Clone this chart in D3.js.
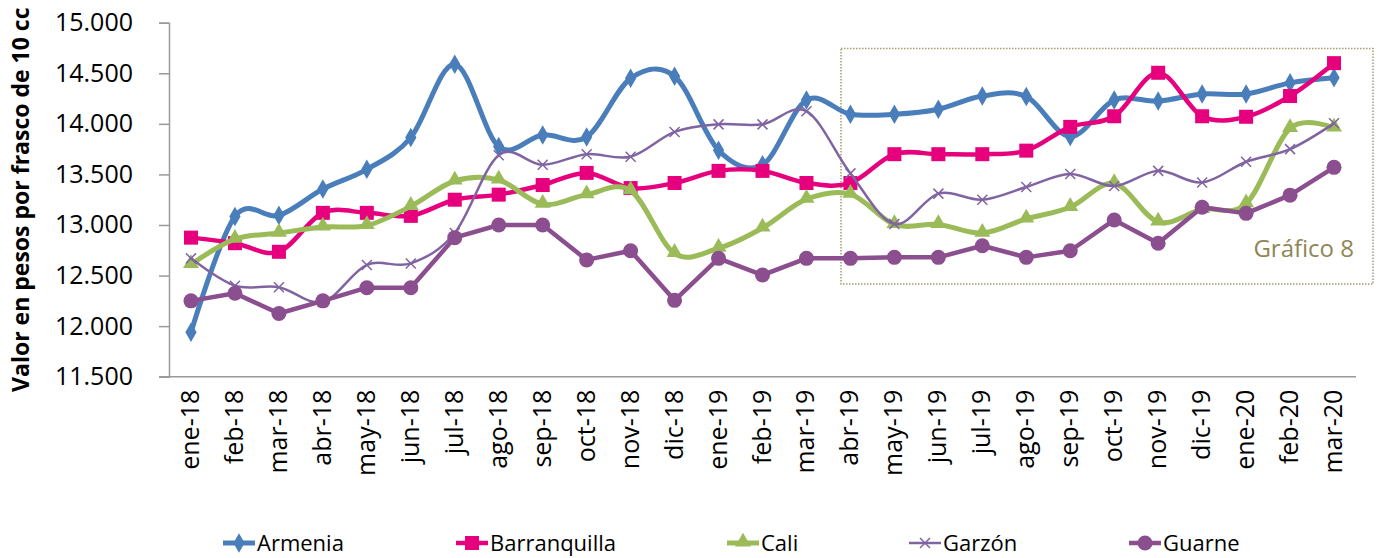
<!DOCTYPE html>
<html>
<head>
<meta charset="utf-8">
<script src="https://cdn.jsdelivr.net/npm/d3@7"></script>
<style>
  html, body { margin: 0; padding: 0; background: #fff; }
  svg { display: block; font-family: "Open Sans", "Noto Sans", sans-serif; }
</style>
</head>
<body>
<svg id="chart" width="1381" height="558"></svg>
<script>
// ---------------------------------------------
// Data
// ---------------------------------------------

let months = ['ene-18', 'feb-18', 'mar-18', 'abr-18', 'may-18', 'jun-18', 'jul-18',
  'ago-18', 'sep-18', 'oct-18', 'nov-18', 'dic-18', 'ene-19', 'feb-19', 'mar-19',
  'abr-19', 'may-19', 'jun-19', 'jul-19', 'ago-19', 'sep-19', 'oct-19', 'nov-19',
  'dic-19', 'ene-20', 'feb-20', 'mar-20'];

let armenia = [11940, 13085, 13095, 13355, 13550, 13865, 14590, 13775, 13890, 13870,
  14450, 14470, 13740, 13595, 14235, 14095, 14095, 14145, 14275, 14270, 13875, 14235,
  14225, 14295, 14295, 14405, 14455];

let barranquilla = [12875, 12820, 12735, 13120, 13120, 13090, 13250, 13300, 13395, 13515,
  13365, 13415, 13535, 13535, 13415, 13415, 13700, 13700, 13700, 13735, 13970, 14075,
  14505, 14075, 14070, 14275, 14600];

let cali = [12610, 12860, 12920, 12980, 12995, 13185, 13435, 13445, 13205, 13300,
  13340, 12720, 12770, 12970, 13255, 13305, 13005, 13005, 12920, 13060, 13175, 13410,
  13030, 13155, 13210, 13955, 13960];

let garzon = [12670, 12400, 12385, 12240, 12605, 12620, 12920, 13690, 13595, 13700,
  13675, 13920, 13995, 13995, 14125, 13510, 13010, 13310, 13250, 13375, 13505, 13385,
  13535, 13420, 13625, 13750, 14005];

let guarne = [12250, 12325, 12125, 12250, 12380, 12380, 12875, 13000, 13000, 12655,
  12745, 12255, 12670, 12505, 12670, 12670, 12680, 12680, 12795, 12680, 12745, 13050,
  12820, 13175, 13115, 13295, 13570];

let yTicks = [11500, 12000, 12500, 13000, 13500, 14000, 14500, 15000];

let seriesNames = ['Armenia', 'Barranquilla', 'Cali', 'Garzón', 'Guarne'];

// ---------------------------------------------
// Setup
// ---------------------------------------------

let svg = d3.select('#chart');

let plotLeft = 169;
let plotRight = 1356;
let plotTop = 22.7;
let plotBottom = 376.7;

let scaleX = d3.scaleBand().domain(months).range([plotLeft, plotRight]).padding(0);
let scaleY = d3.scaleLinear().domain([11500, 15000]).range([plotBottom, plotTop]);

let cx = (d, i) => scaleX(months[i]) + scaleX.bandwidth() / 2;

let series = [
  {name: seriesNames[0], values: armenia, color: '#4A7EBB', width: 5, marker: 'diamond', smooth: true},
  {name: seriesNames[1], values: barranquilla, color: '#E6007E', width: 4.5, marker: 'square', smooth: true},
  {name: seriesNames[2], values: cali, color: '#9BBB59', width: 5, marker: 'triangle', smooth: true},
  {name: seriesNames[3], values: garzon, color: '#8064A2', width: 2.5, marker: 'cross', smooth: true},
  {name: seriesNames[4], values: guarne, color: '#8B4E8E', width: 4.5, marker: 'circle', smooth: false}
];

// ---------------------------------------------
// Axes
// ---------------------------------------------

let yAxis = svg.append('g')
    .attr('transform', 'translate(' + plotLeft + ',0)')
    .call(d3.axisLeft(scaleY).tickValues(yTicks).tickSize(10).tickPadding(26)
      .tickFormat(d => d3.format(',')(d).replace(',', '.')));
yAxis.select('.domain').attr('stroke', '#9a9a9a').attr('stroke-width', 1.5);
yAxis.selectAll('.tick line').attr('stroke', '#9a9a9a').attr('stroke-width', 1.5);
yAxis.selectAll('.tick text')
    .attr('font-size', 25)
    .attr('font-family', '"Open Sans", sans-serif')
    .attr('fill', '#000');

let xAxis = svg.append('g')
    .attr('transform', 'translate(0,' + plotBottom + ')')
    .call(d3.axisBottom(scaleX).tickSize(0).tickPadding(0));
xAxis.select('.domain').attr('stroke', '#9a9a9a').attr('stroke-width', 1.5)
    .attr('d', 'M' + (plotLeft - 10) + ',0H' + plotRight);
xAxis.selectAll('.tick text')
    .attr('font-size', 25)
    .attr('font-family', '"Open Sans", sans-serif')
    .attr('fill', '#000')
    .attr('text-anchor', 'end')
    .attr('transform', 'translate(8,13) rotate(-90)')
    .attr('dy', '0')
    .attr('y', 0)
    .attr('x', 0);

// Axis title
svg.append('text')
    .attr('transform', 'translate(29,' + ((plotTop + plotBottom) / 2) + ') rotate(-90)')
    .attr('text-anchor', 'middle')
    .attr('font-size', 23)
    .attr('font-weight', 'bold')
    .attr('fill', '#000')
    .text('Valor en pesos por frasco de 10 cc');

// ---------------------------------------------
// Highlight box
// ---------------------------------------------

svg.append('rect')
    .attr('x', 841).attr('y', 48.5)
    .attr('width', 532).attr('height', 235.5)
    .attr('fill', 'none')
    .attr('stroke', '#A39D70')
    .attr('stroke-width', 1.5)
    .attr('stroke-dasharray', '1.5,1.5');

svg.append('text')
    .attr('x', 1354).attr('y', 257)
    .attr('text-anchor', 'end')
    .attr('font-size', 24)
    .attr('fill', '#8E8656')
    .text('Gráfico 8');

// ---------------------------------------------
// Markers
// ---------------------------------------------

let drawMarker = function(g, type, color, x, y) {
  if (type === 'diamond') {
    g.append('path').attr('d', d3.symbol(d3.symbolDiamond, 110)())
        .attr('transform', 'translate(' + x + ',' + y + ')').attr('fill', color);
  } else if (type === 'square') {
    g.append('rect').attr('x', x - 7).attr('y', y - 7).attr('width', 14).attr('height', 14)
        .attr('fill', color);
  } else if (type === 'triangle') {
    g.append('path').attr('d', d3.symbol(d3.symbolTriangle, 110)())
        .attr('transform', 'translate(' + x + ',' + (y - 1) + ')').attr('fill', color);
  } else if (type === 'cross') {
    g.append('path').attr('d', 'M-5,-5L5,5M-5,5L5,-5')
        .attr('transform', 'translate(' + x + ',' + y + ')')
        .attr('stroke', color).attr('stroke-width', 1.5).attr('fill', 'none');
  } else if (type === 'circle') {
    g.append('circle').attr('cx', x).attr('cy', y).attr('r', 7.5).attr('fill', color);
  }
};

// ---------------------------------------------
// Lines
// ---------------------------------------------

series.forEach(s => {
  let line = d3.line()
      .x(cx)
      .y(d => scaleY(d))
      .curve(s.smooth ? d3.curveCardinal.tension(0) : d3.curveLinear);

  let g = svg.append('g');
  g.append('path')
      .datum(s.values)
      .attr('d', line)
      .attr('fill', 'none')
      .attr('stroke', s.color)
      .attr('stroke-width', s.width)
      .attr('stroke-linejoin', 'round')
      .attr('stroke-linecap', 'round');

  s.values.forEach((v, i) => drawMarker(g, s.marker, s.color, cx(v, i), scaleY(v)));
});

// ---------------------------------------------
// Legend
// ---------------------------------------------

let legendStarts = [223, 456, 727, 909, 1129];
let legendY = 543;

series.forEach((s, i) => {
  let g = svg.append('g');
  let x0 = legendStarts[i];
  g.append('line')
      .attr('x1', x0).attr('x2', x0 + 32)
      .attr('y1', legendY).attr('y2', legendY)
      .attr('stroke', s.color)
      .attr('stroke-width', s.width);
  drawMarker(g, s.marker, s.color, x0 + 16, legendY);
  g.append('text')
      .attr('x', x0 + 34)
      .attr('y', legendY)
      .attr('dy', '0.36em')
      .attr('font-size', 22)
      .attr('fill', '#000')
      .text(s.name);
});
</script>
</body>
</html>
